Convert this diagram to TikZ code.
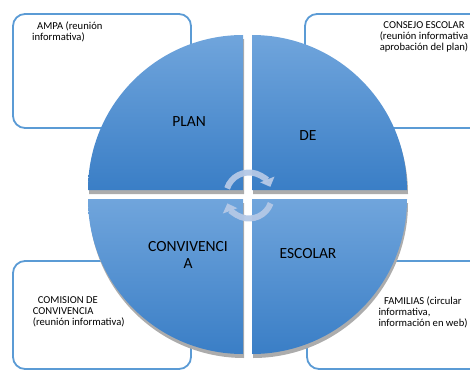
\documentclass[tikz,border=0pt]{standalone}
\usepackage{fontspec}
\setmainfont{Carlito}
\usetikzlibrary{arrows.meta,calc}
\definecolor{boxblue}{RGB}{91,155,213}
\definecolor{qtop}{RGB}{112,165,220}
\definecolor{qbot}{RGB}{58,126,198}
\definecolor{shadowgray}{RGB}{172,172,172}
\definecolor{cyclecol}{RGB}{180,200,230}
\tikzset{
  infobox/.style={draw=boxblue, line width=1.8pt, rounded corners=12pt, fill=white},
  quadshade/.style={top color=qtop, bottom color=qbot},
  quadshadow/.style={fill=shadowgray},
  smalltext/.style={font=\fontsize{10.6}{11}\selectfont, inner sep=0pt, align=left, text=black},
  bigtext/.style={font=\fontsize{15.5}{17}\selectfont, inner sep=0pt, align=center, text=black},
  cyclearrow/.style={draw=cyclecol, line width=6pt, opacity=0.95, -{Triangle[width=15pt,length=8pt]}}
}
\begin{document}
\begin{tikzpicture}[x=1pt,y=1pt]
\useasboundingbox (0,0) rectangle (470,370);
\clip (0,0) rectangle (470,370);
% boxes behind the circle
\draw[infobox] (13,242) rectangle (191,356);
\draw[infobox] (305,242) rectangle (490,356);
\draw[infobox] (13,1) rectangle (191,109);
\draw[infobox] (307,1) rectangle (490,109);
% shadows
\fill[quadshadow] (244,176) -- (89,176) arc[start angle=180,end angle=90,radius=155] -- cycle;
\fill[quadshadow] (253,176) -- (253,331) arc[start angle=90,end angle=0,radius=155] -- cycle;
\fill[quadshadow] (244,167) -- (89,167) arc[start angle=180,end angle=270,radius=155] -- cycle;
\fill[quadshadow] (253,167) -- (408,167) arc[start angle=0,end angle=-90,radius=155] -- cycle;
% quadrants
\shade[quadshade] (243,180) -- (88,180) arc[start angle=180,end angle=90,radius=155] -- cycle;
\shade[quadshade] (252,180) -- (252,335) arc[start angle=90,end angle=0,radius=155] -- cycle;
\shade[quadshade] (243,171) -- (88,171) arc[start angle=180,end angle=270,radius=155] -- cycle;
\shade[quadshade] (252,171) -- (407,171) arc[start angle=0,end angle=-90,radius=155] -- cycle;
% cycle arrows
\coordinate (cyc) at (249,174.5);
\draw[cyclearrow] ($(cyc)+(162:23)$) arc[start angle=162,end angle=22,radius=23];
\draw[cyclearrow] ($(cyc)+(-20:23)$) arc[start angle=-20,end angle=-160,radius=23];
% big labels
\node[bigtext] (plan) at (189,248) {PLAN};
\node[bigtext] (de) at (308,234) {DE};
\node[bigtext] (conv) at (188,115) {CONVIVENCI\\A};
\node[bigtext] (esc) at (308,116) {ESCOLAR};
% box texts
\node[smalltext, anchor=west] (ampa) at (32,338) {\hspace{5pt}AMPA (reunión\\informativa)};
\node[smalltext, anchor=center, align=center] (consejo) at (424,333) {CONSEJO ESCOLAR\\(reunión informativa\\aprobación del plan)};
\node[smalltext, anchor=west] (comision) at (32.7,58) {\hspace{5pt}COMISION DE\\CONVIVENCIA\\(reunión informativa)};
\node[smalltext, anchor=west] (familias) at (378.3,58) {\hspace{5.5pt}FAMILIAS (circular\\informativa,\\información en web)};
\end{tikzpicture}
\end{document}
